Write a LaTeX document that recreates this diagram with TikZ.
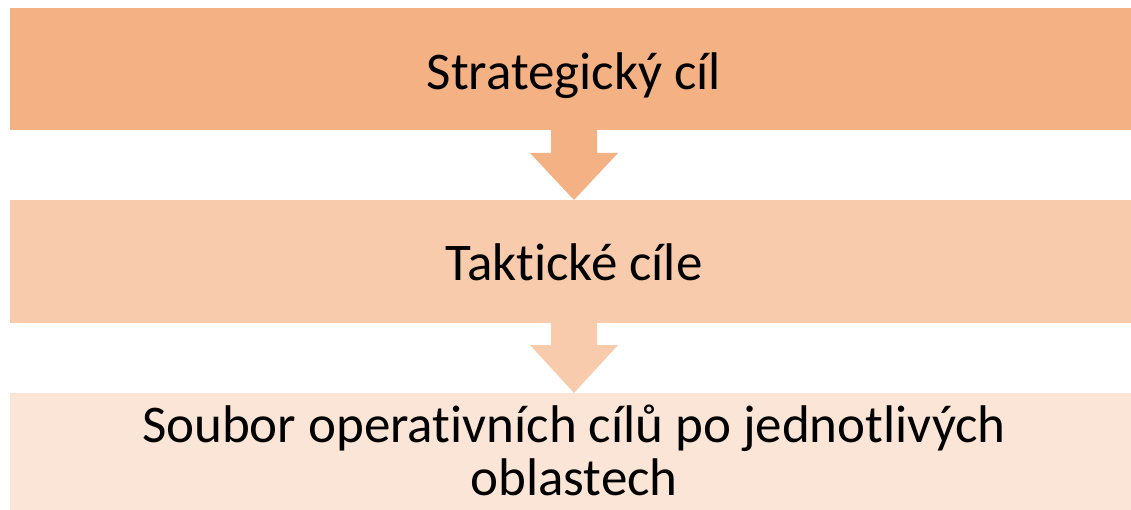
\documentclass[tikz,border=0pt]{standalone}
\usepackage{fontspec}
\setmainfont{Carlito}[Ligatures=NoCommon]
\definecolor{lvlone}{HTML}{F4B183}
\definecolor{lvltwo}{HTML}{F8CBAD}
\definecolor{lvlthree}{HTML}{FBE5D6}
\tikzset{
  x=1pt, y=-1pt,
  band/.style={inner sep=0pt, outer sep=0pt, font=\fontsize{53}{53}\selectfont},
}
\begin{document}
\begin{tikzpicture}
  \useasboundingbox (0,0) rectangle (1131,510);
  \begin{scope}
    \clip (0,0) rectangle (1131,510);
    % three levels of goals
    \fill[lvlone]   (10,8)   rectangle (1138,130);
    \fill[lvltwo]   (10,200) rectangle (1138,323);
    \fill[lvlthree] (10,393) rectangle (1138,540);
    % block arrows between the levels
    \fill[lvlone] (551,130) -- (597,130) -- (597,153) -- (618,153) -- (574,200)
                  -- (530,153) -- (551,153) -- cycle;
    \fill[lvltwo] (551,323) -- (597,323) -- (597,345) -- (618,345) -- (574,393)
                  -- (530,345) -- (551,345) -- cycle;
  \end{scope}
  \node[band, anchor=base] (strat) at (574,90) {Strategický cíl};
  \node[band, anchor=base] (takt) at (574,280) {Taktické cíle};
  % base anchor of a two-line node sits on its last line
  \node[band, anchor=base, align=center] (oper) at (574,495)
    {Soubor operativních cílů po jednotlivých\\oblastech};
\end{tikzpicture}
\end{document}
